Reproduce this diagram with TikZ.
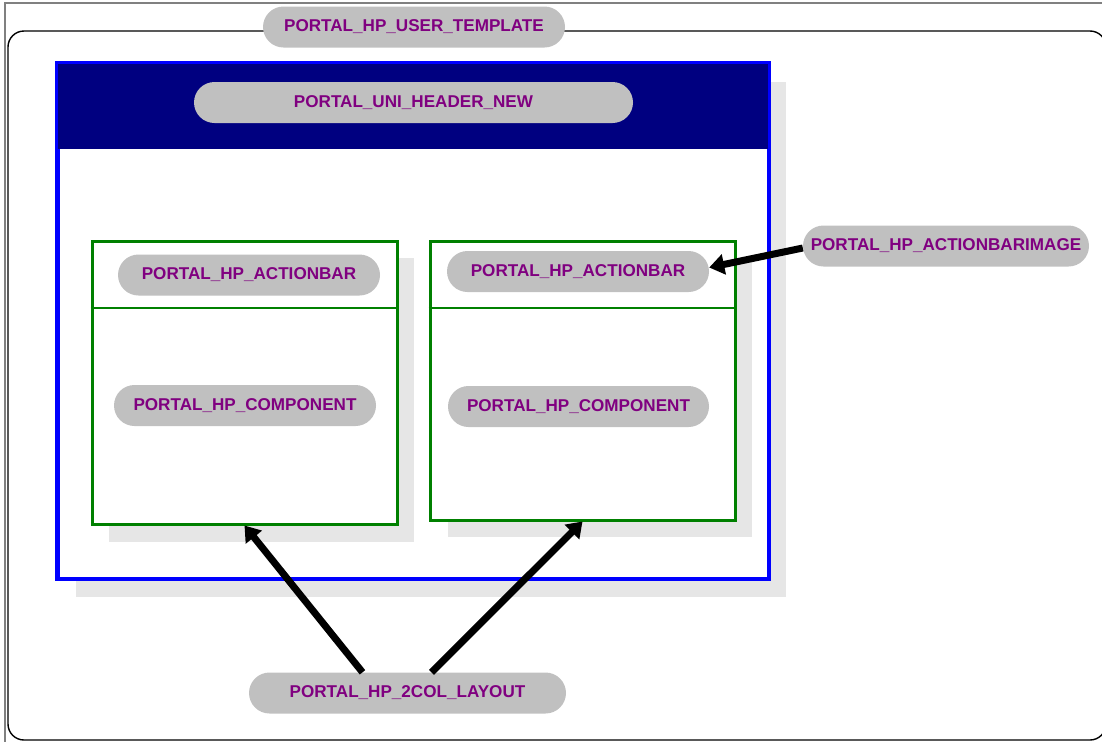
\documentclass[tikz,border=0pt]{standalone}
\usepackage{fontspec}
\setmainfont{Liberation Sans}
\usetikzlibrary{arrows.meta,calc}
\definecolor{pillgray}{HTML}{C0C0C0}
\definecolor{txtpurple}{HTML}{800080}
\definecolor{shadowgray}{HTML}{E6E6E6}
\definecolor{navyband}{HTML}{000080}
\definecolor{boxgreen}{HTML}{008000}
\definecolor{framegray}{HTML}{808080}
\begin{document}
\begin{tikzpicture}[x=1pt,y=-1pt,
  pill/.style={fill=pillgray, rounded corners=20.5pt, minimum height=41pt, inner sep=0pt,
    text=txtpurple, font=\fontsize{17.1}{20}\selectfont\bfseries},
  gbox/.style={draw=boxgreen, line width=3pt, fill=white, inner sep=0pt},
  gdiv/.style={draw=boxgreen, line width=2pt},
  shadow/.style={fill=shadowgray},
  arr/.style={line width=7pt, -{Triangle[length=15pt,width=20pt]}}]
\useasboundingbox (0,0) rectangle (1102,742);
% outer frame
\draw[framegray, line width=2pt] (1102,3) -- (5,3) -- (5,742);
\draw[black, line width=1.4pt, rounded corners=16pt] (8,31) rectangle (1106,740);
\clip (0,0) rectangle (1102,742);
% title
\node[pill, minimum width=302pt] (tpl) at (414,27) {PORTAL\_HP\_USER\_TEMPLATE};
% blue container
\fill[shadow] (76,82) rectangle (786,597);
\node[draw=blue, line width=3pt, fill=white, minimum width=710pt, minimum height=514pt, inner sep=0pt] (bc) at (413,321) {};
\fill[navyband] (bc.north west) rectangle ($(bc.north east)+(0,86)$);
\draw[blue, line width=3pt] (bc.north west) rectangle (bc.south east);
\node[pill, minimum width=439pt] (hdr) at (413.5,102.5) {PORTAL\_UNI\_HEADER\_NEW};
% green boxes
\fill[shadow] (109,258) rectangle (414,542);
\fill[shadow] (448,258) rectangle (752,537);
\node[gbox, minimum width=305pt, minimum height=283pt] (gl) at (244.5,382.5) {};
\node[gbox, minimum width=305pt, minimum height=279pt] (gr) at (582.5,380.5) {};
\draw[gdiv] ($(gl.north west)+(0,68)$) -- ($(gl.north east)+(0,68)$);
\draw[gdiv] ($(gr.north west)+(0,68)$) -- ($(gr.north east)+(0,68)$);
\node[pill, minimum width=262pt] (abl) at (249,275) {PORTAL\_HP\_ACTIONBAR};
\node[pill, minimum width=262pt] (abr) at (578,271.5) {PORTAL\_HP\_ACTIONBAR};
\node[pill, minimum width=262pt] (cpl) at (245,405.5) {PORTAL\_HP\_COMPONENT};
\node[pill, minimum width=261pt] (cpr) at (578.5,406.5) {PORTAL\_HP\_COMPONENT};
\node[pill, minimum width=286pt] (img) at (946,246) {PORTAL\_HP\_ACTIONBARIMAGE};
\node[pill, minimum width=317pt] (lay) at (407.5,693) {PORTAL\_HP\_2COL\_LAYOUT};
% arrows
\draw[arr] ([yshift=-2pt]img.west) -- ([yshift=4pt]abr.east);
\draw[arr] ([xshift=-45pt]lay.north) -- (gl.south);
\draw[arr] ([xshift=24pt]lay.north) -- (gr.south);
\end{tikzpicture}
\end{document}
